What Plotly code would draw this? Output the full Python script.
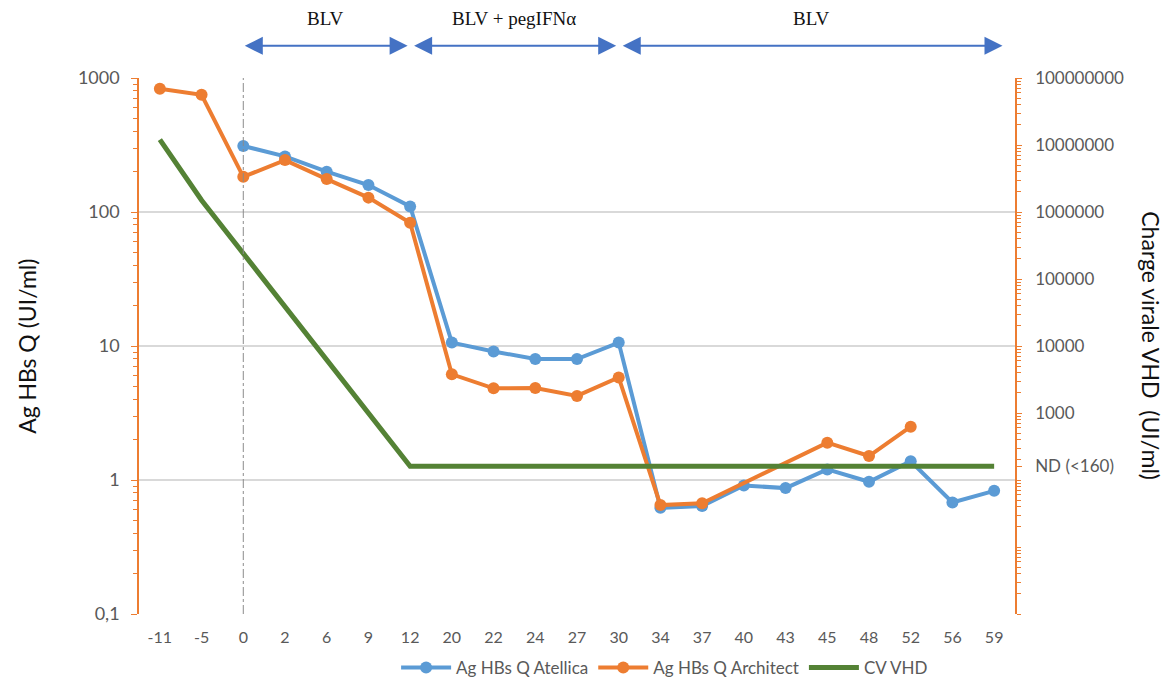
import plotly.graph_objects as go

# months relative to start of treatment
MONTHS = ["-11", "-5", "0", "2", "6", "9", "12", "20", "22", "24", "27", "30",
          "34", "37", "40", "43", "45", "48", "52", "56", "59"]

ATELLICA = [None, None, 311, 260, 200, 159, 110, 10.6, 9.1, 8.0, 8.0, 10.6,
            0.62, 0.64, 0.91, 0.87, 1.20, 0.97, 1.38, 0.68, 0.83]
ARCHITECT = [830, 750, 183, 244, 176, 128, 83, 6.15, 4.83, 4.85, 4.24, 5.83,
             0.65, 0.67, None, None, 1.90, 1.51, 2.5, None, None]
CV_VHD = [1.2e7, 1.5e6, None, None, None, None, 160, 160, 160, 160, 160, 160,
          160, 160, 160, 160, 160, 160, 160, 160, 160]

LEFT_TICKS = [0.1, 1, 10, 100, 1000]
LEFT_TICKTEXT = ["0,1", "1", "10", "100", "1000"]
RIGHT_TICKS = [160, 1e3, 1e4, 1e5, 1e6, 1e7, 1e8]
RIGHT_TICKTEXT = ["ND (<160)", "1000", "10000", "100000", "1000000", "10000000", "100000000"]

PHASES = [("BLV", "0", "12"), ("BLV + pegIFNα", "12", "30"), ("BLV", "30", None)]

BLUE = "#5B9BD5"
ORANGE = "#ED7D31"
GREEN = "#548235"
ARROW = "#4472C4"
GRID = "#D9D9D9"
TEXT = "#595959"
FONT = "Lato, 'Open Sans', sans-serif"

fig = go.Figure()
fig.add_trace(go.Scatter(
    x=MONTHS, y=ATELLICA, name="Ag HBs Q Atellica", mode="lines+markers",
    line=dict(color=BLUE, width=4), marker=dict(size=12, color=BLUE), connectgaps=True,
))
fig.add_trace(go.Scatter(
    x=MONTHS, y=ARCHITECT, name="Ag HBs Q Architect", mode="lines+markers",
    line=dict(color=ORANGE, width=4), marker=dict(size=12, color=ORANGE), connectgaps=True,
))
fig.add_trace(go.Scatter(
    x=MONTHS, y=CV_VHD, name="CV VHD", mode="lines", yaxis="y2",
    line=dict(color=GREEN, width=5), connectgaps=True,
))

idx = {m: i for i, m in enumerate(MONTHS)}
n = len(MONTHS)

# dash-dot marker at month 0
fig.add_shape(
    type="line", xref="x", yref="paper", x0=idx["0"], x1=idx["0"], y0=0, y1=1,
    line=dict(color="#8C8C8C", width=1, dash="dashdot"),
)

annotations = []
for label, start, end in PHASES:
    x0 = idx[start] + (0.06 if start != "0" else 0)
    x1 = idx[end] - 0.06 if end else n - 1 + 0.2
    annotations.append(dict(
        x=x1, y=1.06, ax=x0, ay=0, xref="x", yref="paper", axref="x", ayref="pixel",
        text="", showarrow=True, arrowhead=2, arrowside="end+start", arrowsize=1.8,
        arrowwidth=2, arrowcolor=ARROW, standoff=0, startstandoff=0,
    ))
    annotations.append(dict(
        x=(x0 + x1) / 2, y=1.088, xref="x", yref="paper", text=label, showarrow=False,
        yanchor="bottom", font=dict(family="'Liberation Serif', 'DejaVu Serif', serif", size=19, color="#111111"),
    ))
annotations.append(dict(
    x=-0.128, y=0.5, xref="paper", yref="paper", xanchor="center", yanchor="middle",
    text="Ag HBs Q (UI/ml)", textangle=-90, showarrow=False,
    font=dict(family=FONT, size=23, color="#111111"),
))
annotations.append(dict(
    x=1.155, y=0.5, xref="paper", yref="paper", xanchor="center", yanchor="middle",
    text="Charge virale VHD  (UI/ml)", textangle=90, showarrow=False,
    font=dict(family=FONT, size=23, color="#111111"),
))

# page body adds 8px, so the figure is a bit smaller than the window
fig.update_layout(
    width=1160, height=678,
    margin=dict(l=131, r=153, t=70, b=72),
    paper_bgcolor="white", plot_bgcolor="white",
    font=dict(family=FONT, size=16, color=TEXT),
    showlegend=True,
    legend=dict(orientation="h", x=0.6, xanchor="center", yref="container", y=0.0, yanchor="bottom",
                font=dict(size=17, color=TEXT), itemwidth=50),
    annotations=annotations,
    xaxis=dict(type="category", range=[-0.5, n - 0.5], showgrid=False, showline=False, automargin=False,
               ticks="", tickfont=dict(size=16, color=TEXT), ticklabelstandoff=12, zeroline=False),
    yaxis=dict(
        type="log", range=[-1, 3], tickvals=LEFT_TICKS, ticktext=LEFT_TICKTEXT, automargin=False,
        showgrid=True, gridcolor=GRID, gridwidth=1.5, showline=True, linecolor=ORANGE, linewidth=1.5,
        ticks="outside", ticklen=6, tickcolor=ORANGE, tickfont=dict(size=18, color=TEXT),
        minor=dict(ticks="outside", ticklen=4, tickcolor=ORANGE, dtick="D1", showgrid=False),
        ticklabelstandoff=8, zeroline=False,
    ),
    yaxis2=dict(
        type="log", range=[0, 8], overlaying="y", side="right", tickvals=RIGHT_TICKS, automargin=False,
        ticktext=RIGHT_TICKTEXT, showgrid=False, showline=True, linecolor=ORANGE, linewidth=1.5,
        ticks="outside", ticklen=5, tickcolor=ORANGE, tickfont=dict(size=17, color=TEXT),
        minor=dict(ticks="outside", ticklen=4, tickcolor=ORANGE, dtick="D1", showgrid=False),
        ticklabelstandoff=10, zeroline=False,
    ),
)

fig.write_html("out.html")
